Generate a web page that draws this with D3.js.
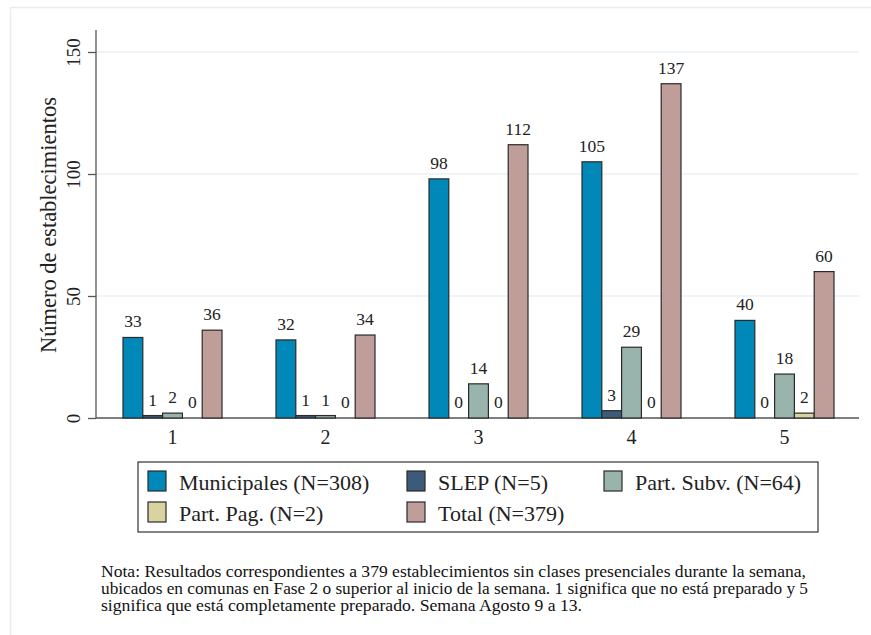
<!DOCTYPE html>
<html><head><meta charset="utf-8">
<script src="https://cdn.jsdelivr.net/npm/d3@7"></script>
<style>
html,body{margin:0;padding:0;background:#fff;}
svg text{font-family:"Liberation Serif","Times New Roman",serif;}
</style>
</head><body>
<svg id="chart" width="871" height="635"></svg>
<script>
const categories = ["1","2","3","4","5"];
const seriesNames = ["Municipales (N=308)","SLEP (N=5)","Part. Subv. (N=64)","Part. Pag. (N=2)","Total (N=379)"];
const municipales = [33,32,98,105,40];
const slep = [1,1,0,3,0];
const partSubv = [2,1,14,29,18];
const partPag = [0,0,0,0,2];
const total = [36,34,112,137,60];
const yTicks = [0,50,100,150];
const colors = ["#0088b9","#3b5b78","#99b4ac","#d9d39f","#bf9d98"];
const yTitle = "Número de establecimientos";
const noteLines = [
 "Nota: Resultados correspondientes a 379 establecimientos sin clases presenciales durante la semana,",
 "ubicados en comunas en Fase 2 o superior al inicio de la semana. 1 significa que no está preparado y 5",
 "significa que está completamente preparado. Semana Agosto 9 a 13."
];
const noteWidths = [705, 707, 481];

const series = [municipales, slep, partSubv, partPag, total];
const svg = d3.select("#chart");

// outer frame
svg.append("rect").attr("x",10.5).attr("y",7.5).attr("width",900).attr("height",700)
  .attr("fill","none").attr("stroke","#e6eef0").attr("stroke-width",1.5);

const plotL = 96, plotR = 859, plotT = 30, plotB = 418;
const y = d3.scaleLinear().domain([0,150]).range([plotB, 52]);
const x = d3.scaleBand().domain(categories).range([96, 861]).padding(0);
const xs = d3.scaleBand().domain(d3.range(seriesNames.length)).range([0, 99]).padding(0);

// gridlines
svg.append("g").selectAll("line").data(yTicks.filter(d=>d>0)).join("line")
  .attr("x1",plotL).attr("x2",plotR).attr("y1",d=>y(d)).attr("y2",d=>y(d))
  .attr("stroke","#e8f0f4").attr("stroke-width",1.5);

// y axis
const yAxis = d3.axisLeft(y).tickValues(yTicks).tickSize(8).tickFormat(d3.format("d"));
const gy = svg.append("g").attr("transform",`translate(${plotL},0)`).call(yAxis);
gy.select(".domain").remove();
gy.selectAll(".tick line").attr("stroke","#555").attr("stroke-width",1.3);
gy.selectAll(".tick text").attr("font-size",19).attr("fill","#222")
  .attr("transform","translate(-16,0) rotate(-90)")
  .attr("x",0).attr("dy","0").attr("text-anchor","middle");
svg.append("line").attr("x1",plotL).attr("x2",plotL).attr("y1",plotT).attr("y2",plotB)
  .attr("stroke","#555").attr("stroke-width",1.3);

// x axis
const xAxis = d3.axisBottom(x).tickSize(0).tickPadding(12);
const gx = svg.append("g").attr("transform",`translate(0,${plotB})`).call(xAxis);
gx.select(".domain").remove();
gx.selectAll(".tick text").attr("font-size",20).attr("fill","#222");
svg.append("line").attr("x1",plotL).attr("x2",plotR).attr("y1",plotB).attr("y2",plotB)
  .attr("stroke","#555").attr("stroke-width",1.3);

// bars
const cells = [];
categories.forEach((c,i)=>series.forEach((s,j)=>cells.push({c, j, v:s[i]})));
const bx = d => x(d.c) + x.bandwidth()/2 - 49.5 + xs(d.j);
svg.append("g").selectAll("rect").data(cells.filter(d=>d.v>0)).join("rect")
  .attr("x",bx).attr("width",xs.bandwidth())
  .attr("y",d=>y(d.v)).attr("height",d=>y(0)-y(d.v))
  .attr("fill",d=>colors[d.j]).attr("stroke","#2a2a2a").attr("stroke-width",1.2);
svg.append("g").selectAll("text").data(cells).join("text")
  .attr("x",d=>bx(d)+xs.bandwidth()/2).attr("y",d=>y(d.v)-10)
  .attr("text-anchor","middle").attr("font-size",17.5).attr("fill","#222")
  .text(d=>d.v);

// y title
svg.append("text").attr("transform",`translate(56,225) rotate(-90)`)
  .attr("text-anchor","middle").attr("font-size",22.5).attr("fill","#222").text(yTitle);

// legend
svg.append("rect").attr("x",138).attr("y",462).attr("width",680).attr("height",70)
  .attr("fill","#fff").attr("stroke","#333").attr("stroke-width",1.2);
const legPos = [[148,471],[407,471],[604,471],[148,502],[407,502]];
const lg = svg.append("g").selectAll("g").data(seriesNames).join("g")
  .attr("transform",(d,i)=>`translate(${legPos[i][0]},${legPos[i][1]})`);
lg.append("rect").attr("width",18).attr("height",20).attr("fill",(d,i)=>colors[i])
  .attr("stroke","#2a2a2a").attr("stroke-width",1.2);
lg.append("text").attr("x",31).attr("y",19).attr("font-size",22).attr("fill","#222").text(d=>d);

// note
svg.append("g").selectAll("text").data(noteLines).join("text")
  .attr("x",101).attr("y",(d,i)=>577+i*17).attr("font-size",16).attr("fill","#111")
  .attr("textLength",(d,i)=>noteWidths[i]).attr("lengthAdjust","spacingAndGlyphs")
  .text(d=>d);
</script>
</body></html>
